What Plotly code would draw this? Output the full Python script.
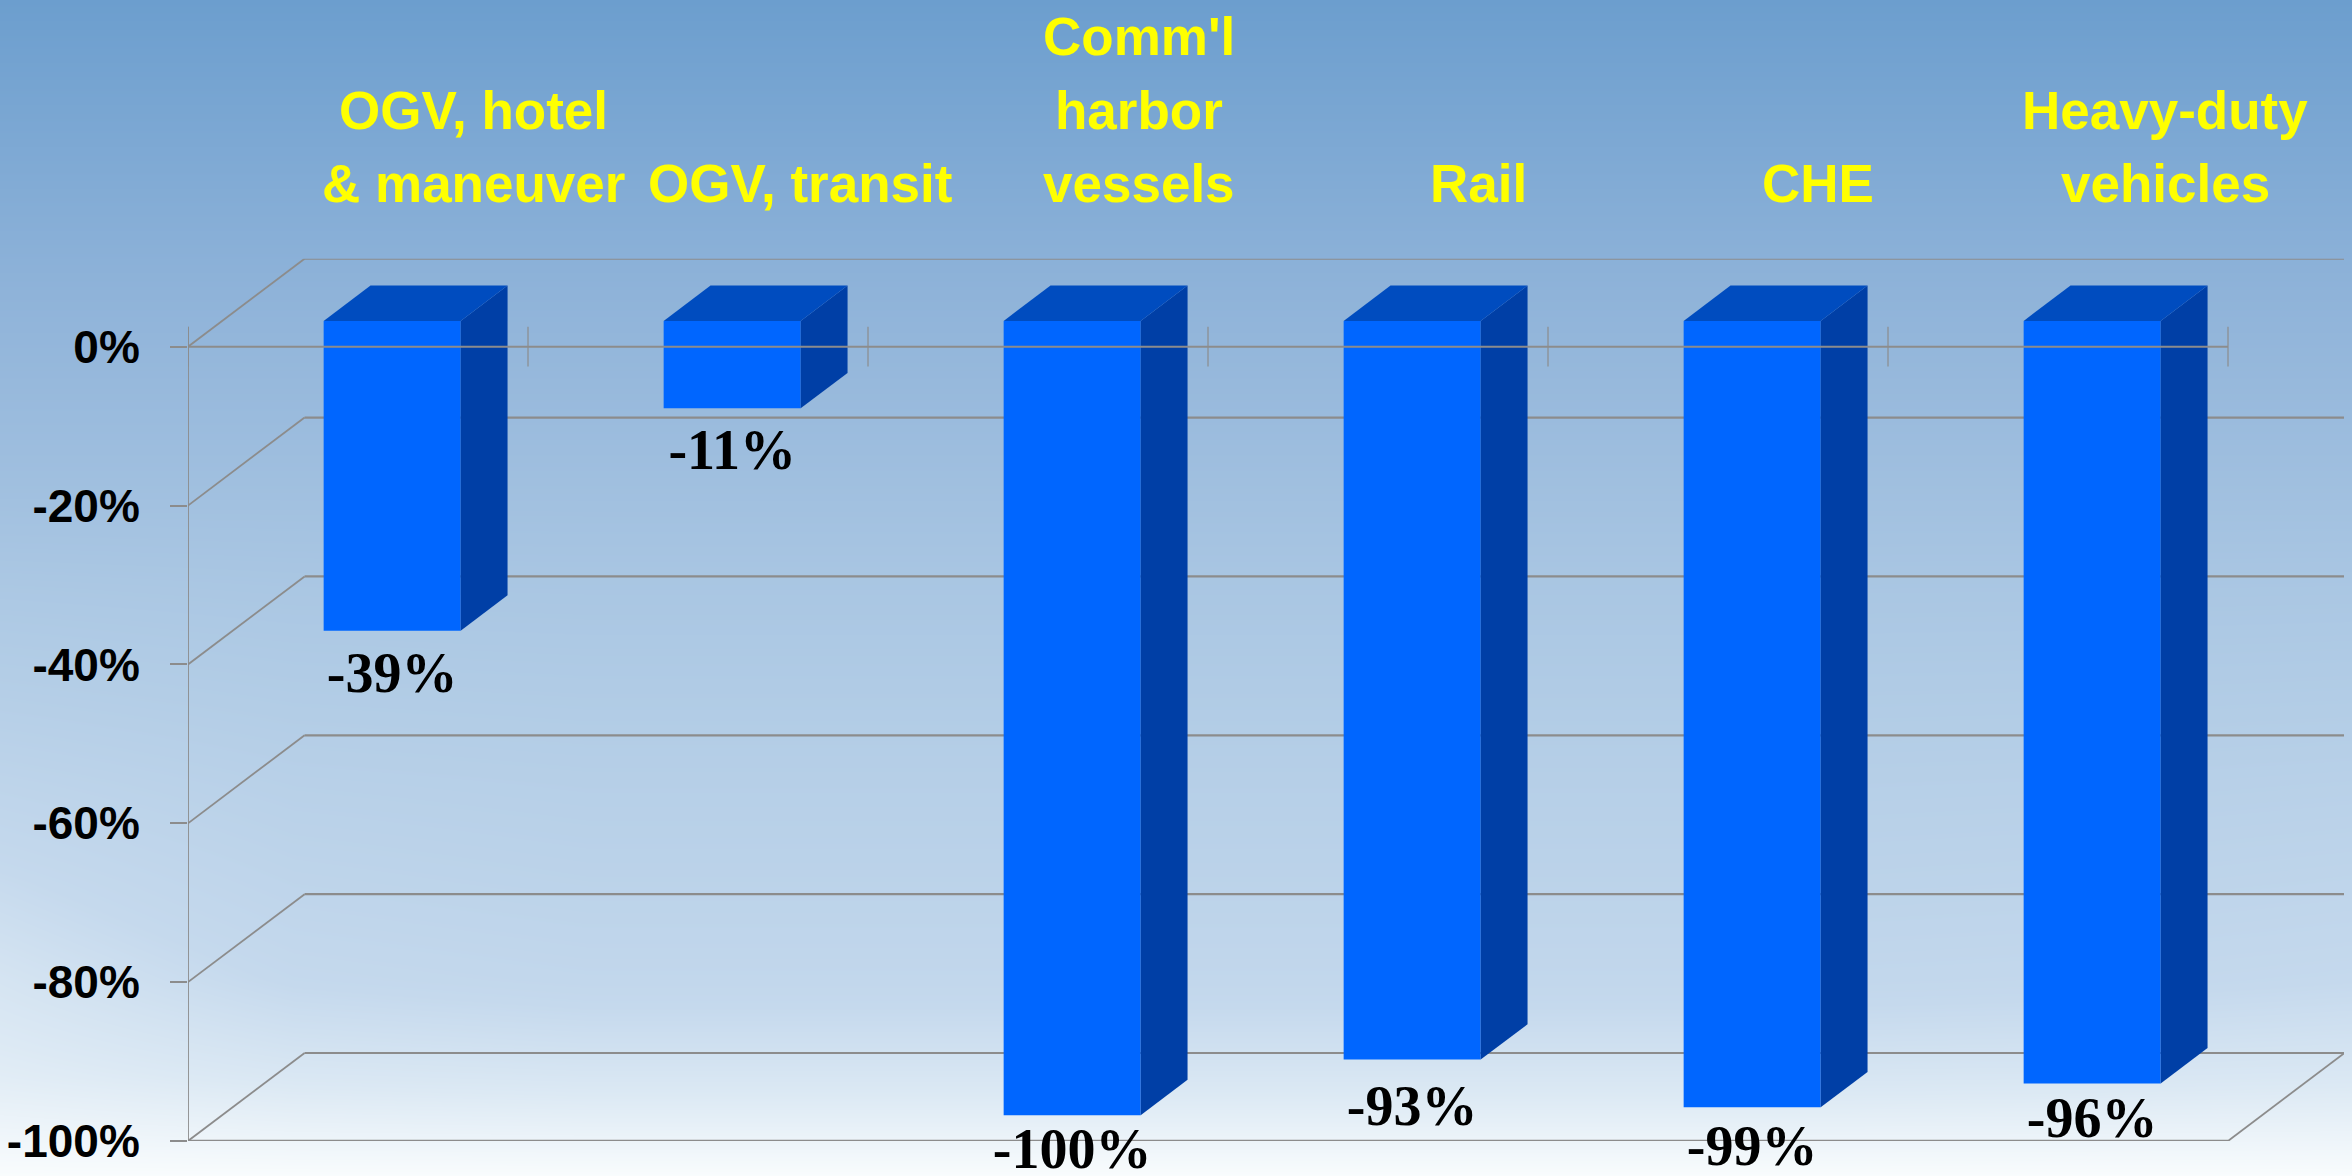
import plotly.graph_objects as go

# ---- data ----
category_lines = [["OGV, hotel", "& maneuver"], ["OGV, transit"], ["Comm'l", "harbor", "vessels"],
                  ["Rail"], ["CHE"], ["Heavy-duty", "vehicles"]]
values = [-39, -11, -100, -93, -99, -96]
value_labels = ["-39%", "-11%", "-100%", "-93%", "-99%", "-96%"]
y_ticks = [0, -20, -40, -60, -80, -100]
y_tick_text = ["0%", "-20%", "-40%", "-60%", "-80%", "-100%"]
label_centers = [0.841, 1.80, 2.797, 3.797, 4.794, 5.815]
label_gaps = [2.4, 2.4, 1.4, 2.95, 2.0, 1.45]   # space under each bar before its label, in axis units

# ---- page geometry ----
W, H = 2352, 1176
L, R, T, B = 188, 2344, 258.7, 1141
CAT_PX = 340.0
XMAX = (R - L) / CAT_PX
DX = 116.6 / CAT_PX      # depth vector in axis units
DY = 88 / 7.945
YMAX = DY
D1, D2 = 0.293, 0.695     # bar front/back depth
BAR_W = 0.403
N = len(values)


def proj(x, v, d):
    return x + d * DX, v + d * DY


GRAY = "#8c8c8c"
FRONT, SIDE, TOP = "#0066FF", "#003FA6", "#004CBF"
SANS = "Liberation Sans, Arial, sans-serif"
SERIF = "Liberation Serif, Times New Roman, serif"

fig = go.Figure()

# background gradient (first subplot, behind everything); row 0 is the page bottom
ny, nx = 13, 9
bg_rows = [1.0, 0.88, 0.77, 0.71, 0.66, 0.60, 0.54, 0.46, 0.38, 0.30, 0.20, 0.10, 0.0]
bg_edge = [0, 0.04, 0.10, 0.10, 0.07, 0.04, 0.02, 0, 0, 0, 0, 0, 0]
z = []
for r, e in zip(bg_rows, bg_edge):
    z.append([min(1, r + e * w) for w in [1, 0.25, 0, 0, 0, 0, 0, 0.1, 0.3]])
fig.add_trace(go.Heatmap(
    z=z, x=[i / (nx - 1) for i in range(nx)], y=[i / (ny - 1) for i in range(ny)],
    xaxis="x", yaxis="y", zmin=0, zmax=1, zsmooth="best", showscale=False, hoverinfo="skip",
    colorscale=[[0, "#6C9ECE"], [0.3, "#8FB3D9"], [0.6, "#B0CBE5"], [0.8, "#C5D9ED"],
                [0.9, "#DCE9F4"], [1, "#F9FCFD"]]))

# walls (below bars)
shapes = []
for t in y_ticks:
    x0, y0 = proj(0, t, 0)
    x1, y1 = proj(0, t, 1)
    shapes.append(dict(type="line", xref="x2", yref="y2", layer="below", x0=x0, y0=y0, x1=x1, y1=y1,
                       line=dict(color=GRAY, width=1.8)))
    shapes.append(dict(type="line", xref="x2", yref="y2", layer="below", x0=x1, y0=y1, x1=XMAX, y1=y1,
                       line=dict(color=GRAY, width=2.2)))
# floor
shapes.append(dict(type="line", xref="x2", yref="y2", layer="below", x0=0, y0=-100, x1=N, y1=-100,
                   line=dict(color=GRAY, width=2.5)))
fx, fy = proj(N, -100, 1)
shapes.append(dict(type="line", xref="x2", yref="y2", layer="below", x0=N, y0=-100, x1=fx, y1=fy,
                   line=dict(color=GRAY, width=1.8)))

# bars: front face
centers = [i + 0.5 + D1 * DX for i in range(N)]
base = D1 * DY
fig.add_trace(go.Bar(x=centers, y=values, base=[base] * N, width=BAR_W, xaxis="x2", yaxis="y2",
                     marker=dict(color=FRONT, line=dict(width=0)), hoverinfo="skip"))

# bars: side and top faces
for i, v in enumerate(values):
    xl = i + 0.5 - BAR_W / 2
    xr = i + 0.5 + BAR_W / 2
    a = proj(xr, v, D1)
    b = proj(xr, v, D2)
    c = proj(xr, 0, D2)
    d = proj(xr, 0, D1)
    fig.add_trace(go.Scatter(x=[a[0], b[0], c[0], d[0], a[0]], y=[a[1], b[1], c[1], d[1], a[1]],
                             mode="lines", fill="toself", fillcolor=SIDE, line=dict(width=0),
                             xaxis="x2", yaxis="y2", hoverinfo="skip"))
    p = proj(xl, 0, D1)
    q = proj(xl, 0, D2)
    r = proj(xr, 0, D2)
    s = proj(xr, 0, D1)
    fig.add_trace(go.Scatter(x=[p[0], q[0], r[0], s[0], p[0]], y=[p[1], q[1], r[1], s[1], p[1]],
                             mode="lines", fill="toself", fillcolor=TOP, line=dict(width=0),
                             xaxis="x2", yaxis="y2", hoverinfo="skip"))

# zero line, category ticks, value axis line (over the bars)
TICK = 2.5
tx, ty = [], []
for i in range(N + 1):
    tx += [i, i, None]
    ty += [TICK, -TICK, None]
fig.add_trace(go.Scatter(x=tx, y=ty, mode="lines", line=dict(color=GRAY, width=1.2),
                         xaxis="x2", yaxis="y2", hoverinfo="skip"))
fig.add_trace(go.Scatter(x=[0, N], y=[0, 0], mode="lines", line=dict(color=GRAY, width=2),
                         xaxis="x2", yaxis="y2", hoverinfo="skip"))
fig.add_trace(go.Scatter(x=[0, 0], y=[TICK, -100], mode="lines", line=dict(color=GRAY, width=1.8),
                         xaxis="x2", yaxis="y2", hoverinfo="skip"))

# value labels
fig.add_trace(go.Scatter(x=centers, y=[base + v - g for v, g in zip(values, label_gaps)], text=value_labels,
                         mode="text", textposition="bottom center", cliponaxis=False,
                         textfont=dict(family=SERIF, size=56, color="black", weight="bold"),
                         xaxis="x2", yaxis="y2", hoverinfo="skip"))

# category labels: one annotation per text line so the line pitch can be held
BASELINES = [206, 132.7, 59.3]
anns = []
for lines, cx in zip(category_lines, label_centers):
    for k, line in enumerate(reversed(lines)):
        anns.append(dict(text=f"<b>{line}</b>", xref="x2", x=cx, yref="paper",
                         y=1 - (BASELINES[k] + 9) / H, xanchor="center", yanchor="bottom",
                         showarrow=False, font=dict(family=SANS, size=53, color="#FFFF00")))

fig.update_layout(
    template=None,
    width=W, height=H, margin=dict(l=0, r=0, t=0, b=0, pad=0), showlegend=False, barmode="overlay",
    paper_bgcolor="white", plot_bgcolor="rgba(0,0,0,0)", shapes=shapes, annotations=anns,
    xaxis=dict(domain=[0, 1], range=[0, 1], visible=False, fixedrange=True, automargin=False),
    yaxis=dict(domain=[0, 1], range=[0, 1], visible=False, fixedrange=True, automargin=False),
    xaxis2=dict(domain=[L / W, R / W], range=[0, XMAX], visible=False, anchor="y2", automargin=False),
    yaxis2=dict(domain=[1 - B / H, 1 - T / H], range=[-100, YMAX], anchor="x2", showgrid=False, zeroline=False,
                showline=False, tickmode="array", tickvals=y_ticks, ticktext=y_tick_text, automargin=False,
                ticks="outside", ticklen=17, tickwidth=2, tickcolor=GRAY, ticklabelstandoff=21,
                tickfont=dict(family=SANS, size=46, color="black", weight="bold")),
)
fig.write_html("out.html", config={"displayModeBar": False},
               post_script="document.body.style.margin='0';document.body.style.overflow='hidden';")
